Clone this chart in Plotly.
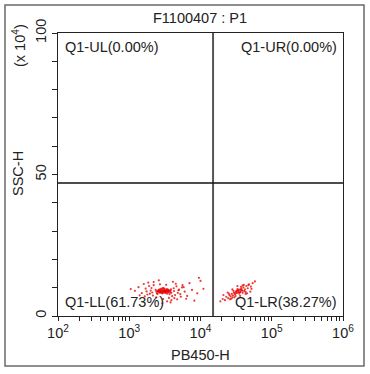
import plotly.graph_objects as go

# ---- data ----
ll_x = [2400, 2550, 2700, 2850, 3000, 3150, 3300, 3450, 3600, 3800, 2450, 2600, 2750, 2900, 3050,
        3200, 3350, 3500, 3700, 3900, 2350, 2500, 2650, 2800, 2950, 3100, 3250, 3400, 3550, 3750,
        2480, 2620, 2780, 2920, 3080, 3220, 3380, 3520, 3680, 3850, 2700, 2850, 3000, 3150, 3300,
        2600, 2900, 3200, 3500, 3100, 2650, 2750, 2950, 3050, 3250, 3350, 2850, 3150, 3450, 2550,
        1050, 1200, 1350, 1500, 1600, 1700, 1800, 1900, 2000, 2100, 2200, 1750, 1850, 1950, 2050,
        2150, 4200, 4400, 4600, 4800, 5000, 5300, 5600, 6000, 6500, 7000, 7600, 8200, 9000, 10000,
        4300, 4500, 4700, 4900, 5200, 5500, 4100, 3900, 3600, 3300, 3000, 2700, 2400, 2200, 4000,
        4250, 3800, 3400, 2900, 2600, 5800, 6300, 11000, 9500, 1650, 1400]
ll_y = [8.6, 9.1, 8.2, 9.4, 8.8, 9.0, 8.4, 9.2, 8.7, 8.9, 8.0, 8.5, 9.6, 8.3, 9.3,
        8.1, 9.5, 8.6, 9.0, 8.2, 9.2, 7.8, 8.9, 8.7, 8.0, 9.7, 8.8, 7.9, 9.1, 8.4,
        8.7, 9.3, 8.5, 9.8, 8.6, 9.2, 8.9, 8.3, 7.7, 9.4, 9.0, 8.1, 9.9, 8.4, 8.7,
        8.8, 9.1, 8.5, 9.3, 8.9, 8.6, 9.0, 8.7, 8.5, 8.9, 8.8, 8.4, 8.6, 8.9, 8.8,
        9.5, 8.9, 10.2, 8.1, 11.3, 9.7, 7.6, 10.6, 9.0, 8.3, 10.9, 8.7, 11.8, 7.9, 9.9,
        7.2, 9.8, 7.4, 10.5, 8.2, 9.3, 6.8, 10.9, 8.6, 7.1, 11.6, 9.2, 5.4, 8.0, 12.4,
        6.3, 11.4, 5.9, 9.1, 7.7, 10.1, 12.1, 5.6, 6.4, 11.0, 6.0, 11.2, 6.6, 12.0, 7.0,
        8.8, 4.8, 5.2, 4.5, 12.6, 10.2, 6.1, 9.6, 13.5, 6.9, 7.3]

lr_x = [19000, 20500, 22000, 23000, 24500, 25500, 26500, 27500, 28500, 29500, 30500, 31500,
        32500, 33500, 34500, 35500, 36500, 37500, 38500, 40000, 42000, 44000, 46000, 48000,
        51000, 54000, 58000, 29000, 31000, 33000, 35000, 37000, 39000, 41000, 34000, 36000,
        32000, 30000, 38000, 43000, 27000, 25000, 47000, 52000, 33800, 36800, 31800, 28200,
        40500, 45000, 21000, 24000, 26000, 28000, 30000, 33000, 36000, 39000, 43000, 50000]
lr_y = [5.2, 6.0, 5.6, 6.8, 6.3, 7.4, 6.9, 7.8, 7.2, 8.3, 7.7, 8.6,
        8.1, 9.0, 8.4, 9.3, 8.7, 9.7, 9.0, 10.1, 9.4, 10.6, 9.8, 11.2,
        10.4, 11.6, 12.2, 8.9, 7.1, 9.5, 7.9, 10.3, 8.2, 8.8, 8.7, 8.4,
        8.9, 8.0, 9.1, 8.5, 6.1, 7.9, 10.9, 9.6, 9.2, 9.4, 8.3, 6.5,
        11.0, 8.0, 7.4, 8.3, 5.9, 9.4, 6.6, 10.6, 7.1, 10.8, 7.8, 8.6]

quad_x = 15000
quad_y = 47
quad_labels = ["Q1-UL(0.00%)", "Q1-UR(0.00%)", "Q1-LL(61.73%)", "Q1-LR(38.27%)"]

x_tickvals = [100, 200, 300, 400, 500, 600, 700, 800, 900,
              1000, 2000, 3000, 4000, 5000, 6000, 7000, 8000, 9000,
              10000, 20000, 30000, 40000, 50000, 60000, 70000, 80000, 90000,
              100000, 200000, 300000, 400000, 500000, 600000, 700000, 800000, 900000,
              1000000]
x_ticktext = ["10<sup>2</sup>", "", "", "", "", "", "", "", "",
              "10<sup>3</sup>", "", "", "", "", "", "", "", "",
              "10<sup>4</sup>", "", "", "", "", "", "", "", "",
              "10<sup>5</sup>", "", "", "", "", "", "", "", "",
              "10<sup>6</sup>"]
y_tickvals = [0, 10, 20, 30, 40, 50, 60, 70, 80, 90, 100]
y_ticktext = ["0", "", "", "", "", "50", "", "", "", "", "100"]

title_text = "F1100407 : P1"
x_title = "PB450-H"
y_title = "SSC-H"
y_unit = "(x 10<sup>4</sup>)"

FONT = "Liberation Sans, Arial, sans-serif"
FS = 14.5
TC = "#222222"

fig = go.Figure()
fig.add_trace(go.Scatter(x=ll_x, y=ll_y, mode="markers",
                         marker=dict(size=2.2, color="rgb(230,10,10)", opacity=0.8),
                         hoverinfo="skip", showlegend=False))
fig.add_trace(go.Scatter(x=lr_x, y=lr_y, mode="markers",
                         marker=dict(size=2.2, color="rgb(230,10,10)", opacity=0.8),
                         hoverinfo="skip", showlegend=False))

L, R, T, B = 58, 27, 33, 58
W, H = 370, 374
pw, ph = W - L - R, H - T - B

def px_x(p):
    return (p - L) / pw

def px_y(p):
    return (H - B - p) / ph

shapes = [
    dict(type="rect", xref="paper", yref="paper",
         x0=px_x(5), x1=px_x(364), y0=px_y(366), y1=px_y(5),
         line=dict(color="#6a6a6a", width=1.5)),
    dict(type="line", xref="x", yref="paper", x0=quad_x, x1=quad_x, y0=0, y1=1,
         line=dict(color="#555555", width=2)),
    dict(type="line", xref="paper", yref="y", x0=0, x1=1, y0=quad_y, y1=quad_y,
         line=dict(color="#111111", width=1.3)),
]

def ann(text, xp, yp, anchor="center", angle=0):
    return dict(text=text, xref="paper", yref="paper", x=px_x(xp), y=px_y(yp),
                xanchor=anchor, yanchor="middle", showarrow=False, textangle=angle,
                font=dict(size=FS, color=TC))

annotations = [
    ann(title_text, 200, 18),
    ann(x_title, 200, 355),
    ann(y_title, 18, 174, angle=-90),
    ann(y_unit, 19, 46, angle=-90),
    ann(quad_labels[0], 63, 47, "left"),
    ann(quad_labels[1], 339, 47, "right"),
    ann(quad_labels[2], 63, 302, "left"),
    ann(quad_labels[3], 339, 302, "right"),
]

fig.update_layout(
    width=W, height=H,
    margin=dict(l=L, r=R, t=T, b=B, pad=0),
    paper_bgcolor="white", plot_bgcolor="white",
    font=dict(family=FONT, size=FS, color=TC),
    shapes=shapes, annotations=annotations,
    showlegend=False,
)
fig.update_xaxes(type="log", range=[2, 6], tickmode="array",
                 tickvals=x_tickvals, ticktext=x_ticktext,
                 ticks="outside", ticklen=4, tickcolor=TC, tickwidth=1,
                 showline=True, linecolor=TC, linewidth=1, mirror=True,
                 showgrid=False, zeroline=False, tickfont=dict(size=FS, color=TC))
fig.update_yaxes(range=[0, 100], tickmode="array", tickvals=y_tickvals, ticktext=y_ticktext,
                 ticks="outside", ticklen=5, tickcolor=TC, tickwidth=1,
                 tickangle=-90,
                 showline=True, linecolor=TC, linewidth=1, mirror=True,
                 showgrid=False, zeroline=False, tickfont=dict(size=FS, color=TC))

fig.write_html("out.html", config={"displayModeBar": False},
               post_script="document.body.style.margin='0px';")
